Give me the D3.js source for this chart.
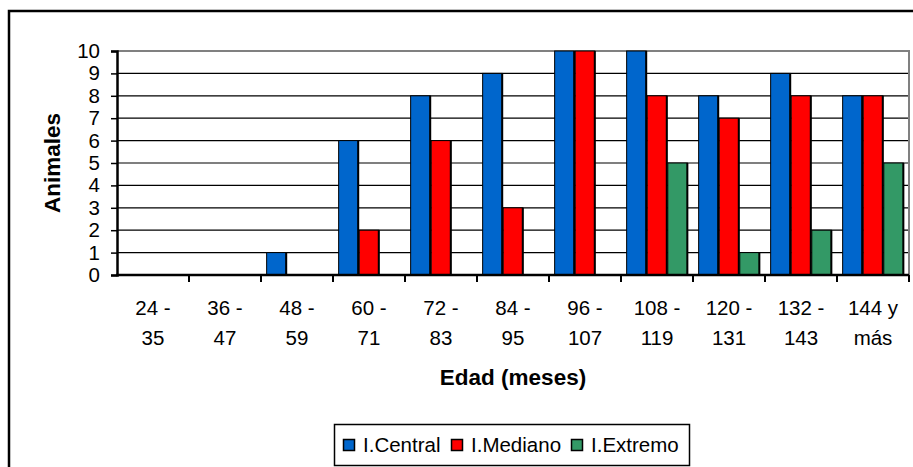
<!DOCTYPE html>
<html>
<head>
<meta charset="utf-8">
<script src="https://cdn.jsdelivr.net/npm/d3@7"></script>
<style>
  html, body { margin: 0; padding: 0; background: #fff; }
  svg { display: block; font-family: Arial, "Liberation Sans", sans-serif; }
</style>
</head>
<body>
<svg id="chart" width="913" height="467"></svg>
<script>
// Age ranges (months), two-line labels
const categories = ["24 - 35", "36 - 47", "48 - 59", "60 - 71", "72 - 83", "84 - 95",
                    "96 - 107", "108 - 119", "120 - 131", "132 - 143", "144 y más"];
const labelLines = [["24 -", "35"], ["36 -", "47"], ["48 -", "59"], ["60 -", "71"], ["72 -", "83"],
                    ["84 -", "95"], ["96 -", "107"], ["108 -", "119"], ["120 -", "131"],
                    ["132 -", "143"], ["144 y", "más"]];
const seriesNames = ["I.Central", "I.Mediano", "I.Extremo"];
const central = [0, 0, 1, 6, 8, 9, 10, 10, 8, 9, 8];
const mediano = [0, 0, 0, 2, 6, 3, 10, 8, 7, 8, 8];
const extremo = [0, 0, 0, 0, 0, 0, 0, 5, 1, 2, 5];
const yTicks = [0, 1, 2, 3, 4, 5, 6, 7, 8, 9, 10];
const colors = ["#0066CC", "#FF0000", "#339966"];

const series = [central, mediano, extremo];

const svg = d3.select("#chart");
const plot = { left: 117, right: 909, top: 51, bottom: 275 };
const fontSize = 20.5;

// outer frame (runs off the right and bottom edges)
svg.append("rect")
  .attr("x", 9).attr("y", 11).attr("width", 1000).attr("height", 1000)
  .attr("fill", "none").attr("stroke", "#000").attr("stroke-width", 2.5);

const x = d3.scaleBand().domain(categories).range([plot.left, plot.right]).padding(0);
const inner = d3.scaleBand().domain(d3.range(seriesNames.length))
  .range([0, x.bandwidth()]).paddingInner(0).paddingOuter(0.25);
const y = d3.scaleLinear().domain([0, 10]).range([plot.bottom, plot.top]);

// horizontal gridlines
svg.append("g").selectAll("line").data(yTicks.filter(t => t > 0)).join("line")
  .attr("x1", plot.left).attr("x2", plot.right)
  .attr("y1", d => y(d)).attr("y2", d => y(d))
  .attr("stroke", d => d === 10 ? "#808080" : "#000")
  .attr("stroke-width", d => d === 10 ? 2 : 1.2);

// right edge of plot area
svg.append("line")
  .attr("x1", plot.right).attr("x2", plot.right)
  .attr("y1", plot.top - 1).attr("y2", plot.bottom)
  .attr("stroke", "#808080").attr("stroke-width", 2);

// bars
const groups = svg.append("g").selectAll("g").data(series).join("g");
groups.each(function (vals, si) {
  const g = d3.select(this);
  vals.forEach((v, ci) => {
    if (v <= 0) return;
    const bx = x(categories[ci]) + inner(si);
    const bw = inner.bandwidth();
    g.append("rect")
      .attr("x", bx + 0.5).attr("y", y(v))
      .attr("width", bw - 1).attr("height", y(0) - y(v))
      .attr("fill", colors[si]).attr("stroke", "#000").attr("stroke-width", 1);
    g.append("line")
      .attr("x1", bx + bw - 0.5).attr("x2", bx + bw - 0.5)
      .attr("y1", y(v)).attr("y2", y(0))
      .attr("stroke", "#000").attr("stroke-width", 2);
  });
});

// y axis
const yAxis = d3.axisLeft(y).tickValues(yTicks).tickSize(6).tickPadding(11).tickFormat(d3.format("d"));
const gy = svg.append("g").attr("transform", `translate(${plot.left},0)`).call(yAxis);
gy.attr("font-size", null).attr("font-family", null);
gy.select(".domain").attr("stroke", "#000").attr("stroke-width", 2.5);
gy.selectAll(".tick line").attr("stroke", "#000").attr("stroke-width", 1.5);
gy.selectAll(".tick text").attr("font-size", fontSize).attr("fill", "#000");

// x axis baseline and category boundary ticks
svg.append("line")
  .attr("x1", plot.left - 1).attr("x2", plot.right)
  .attr("y1", plot.bottom).attr("y2", plot.bottom)
  .attr("stroke", "#000").attr("stroke-width", 2.5);
svg.append("g").selectAll("line").data(categories.slice(1).concat(["__end"])).join("line")
  .attr("x1", d => d === "__end" ? plot.right : x(d))
  .attr("x2", d => d === "__end" ? plot.right : x(d))
  .attr("y1", plot.bottom).attr("y2", plot.bottom + 7)
  .attr("stroke", "#000").attr("stroke-width", 2);

// category labels
const xl = svg.append("g").selectAll("text").data(categories).join("text")
  .attr("text-anchor", "middle").attr("font-size", fontSize).attr("fill", "#000");
xl.each(function (d, i) {
  const t = d3.select(this);
  const cx = x(d) + x.bandwidth() / 2;
  labelLines[i].forEach((ln, k) => {
    t.append("tspan").attr("x", cx).attr("y", 315 + k * 30).text(ln);
  });
});

// axis titles
svg.append("text")
  .attr("x", (plot.left + plot.right) / 2).attr("y", 385)
  .attr("text-anchor", "middle").attr("font-size", 22.5).attr("font-weight", "bold")
  .text("Edad (meses)");
svg.append("text")
  .attr("transform", `translate(60,${(plot.top + plot.bottom) / 2}) rotate(-90)`)
  .attr("text-anchor", "middle").attr("font-size", 22.5).attr("font-weight", "bold")
  .text("Animales");

// legend
const legend = svg.append("g");
legend.append("rect")
  .attr("x", 334.5).attr("y", 424.5).attr("width", 355).attr("height", 41)
  .attr("fill", "#fff").attr("stroke", "#000").attr("stroke-width", 1.5);
const legendX = [343, 451, 571];
seriesNames.forEach((name, i) => {
  legend.append("rect")
    .attr("x", legendX[i] + 0.5).attr("y", 439.5).attr("width", 11).attr("height", 11)
    .attr("fill", colors[i]).attr("stroke", "#000").attr("stroke-width", 1.5);
  legend.append("text")
    .attr("x", legendX[i] + 20).attr("y", 452)
    .attr("font-size", fontSize).attr("fill", "#000")
    .text(name);
});
</script>
</body>
</html>
